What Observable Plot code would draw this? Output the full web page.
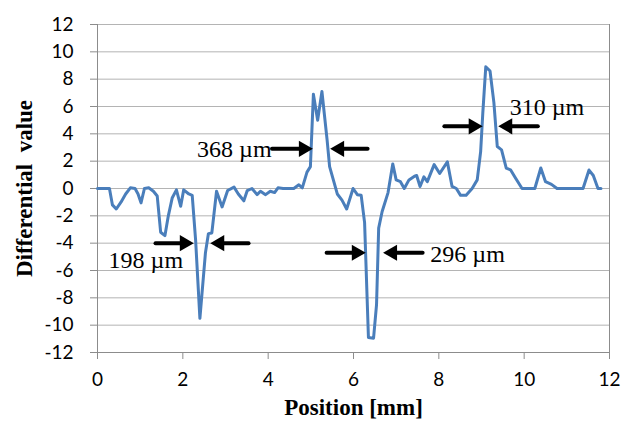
<!DOCTYPE html>
<html>
<head>
<meta charset="utf-8">
<script src="https://cdn.jsdelivr.net/npm/d3@7"></script>
<script src="https://cdn.jsdelivr.net/npm/@observablehq/plot@0.6"></script>
<style>
  html, body { margin: 0; padding: 0; background: #fff; }
  #chart { width: 624px; height: 433px; }
</style>
</head>
<body>
<div id="chart"></div>
<script>
// Position [mm]
const positions = [
  0.00, 0.10, 0.20, 0.28, 0.35, 0.44, 0.55, 0.66, 0.77, 0.88,
  0.95, 1.02, 1.10, 1.20, 1.31, 1.40, 1.48, 1.58, 1.66, 1.75,
  1.85, 1.95, 2.02, 2.14, 2.22, 2.30, 2.40, 2.53, 2.60, 2.68,
  2.79, 2.92, 3.05, 3.20, 3.30, 3.43, 3.51, 3.62, 3.74, 3.82,
  3.94, 4.05, 4.15, 4.23, 4.35, 4.50, 4.60, 4.72, 4.80, 4.91,
  4.99, 5.06, 5.16, 5.26, 5.38, 5.44, 5.62, 5.73, 5.84, 5.99,
  6.09, 6.18, 6.26, 6.35, 6.47, 6.54, 6.59, 6.67, 6.81, 6.92,
  7.00, 7.10, 7.19, 7.30, 7.43, 7.48, 7.56, 7.65, 7.73, 7.89,
  8.02, 8.20, 8.31, 8.41, 8.51, 8.64, 8.78, 8.90, 8.98, 9.03,
  9.10, 9.20, 9.29, 9.37, 9.47, 9.58, 9.68, 9.80, 9.95, 10.10,
  10.25, 10.39, 10.50, 10.64, 10.77, 11.00, 11.20, 11.38, 11.52, 11.62,
  11.73, 11.80
];
// Differential value
const values = [
  0, 0, 0, 0, -1.2, -1.5, -1.0, -0.4, 0.05, 0,
  -0.4, -1.05, 0, 0.05, -0.2, -0.55, -3.2, -3.45, -2.0, -0.7,
  -0.1, -1.3, -0.1, -0.4, -0.5, -3.8, -9.5, -4.7, -3.3, -3.25,
  -0.2, -1.35, -0.15, 0.1, -0.4, -0.9, -0.15, 0, -0.45, -0.2,
  -0.45, -0.2, -0.3, 0.05, 0, 0, 0, 0.27, 0.05, 1.2,
  1.6, 6.9, 5.0, 7.1, 3.6, 1.6, -0.4, -0.85, -1.5, 0,
  -0.45, -0.5, -2.5, -10.9, -10.95, -8.5, -2.9, -1.7, -0.3, 1.8,
  0.63, 0.5, 0, 0.63, 0.9, 0.95, 0.15, 0.85, 0.5, 1.75,
  1.1, 1.95, 0.15, 0, -0.5, -0.5, 0, 0.63, 2.7, 5.5,
  8.9, 8.6, 6.3, 3.07, 2.83, 1.49, 1.37, 0.75, 0, 0,
  0, 1.5, 0.5, 0.3, 0, 0, 0, 0, 1.35, 0.95,
  0, 0
];

const xTicks = [0, 2, 4, 6, 8, 10, 12];
const yTicks = [-12, -10, -8, -6, -4, -2, 0, 2, 4, 6, 8, 10, 12];

// Width annotations: arrows (start, tip, level) and labels
const arrowFrom = [1.36, 3.54, 4.09, 6.33, 5.37, 7.62, 8.13, 10.32];
const arrowTo   = [2.25, 2.65, 5.04, 5.46, 6.28, 6.70, 9.02, 9.40];
const arrowLevel = [-4.0, -4.0, 2.9, 2.9, -4.7, -4.7, 4.55, 4.55];

const labelText = ["198 µm", "368 µm", "296 µm", "310 µm"];
const labelX = [0.26, 4.08, 7.80, 9.66];
const labelY = [-5.25, 2.9, -4.85, 5.95];
const labelAnchor = ["start", "end", "start", "start"];

const series = positions.map((p, i) => ({x: p, y: values[i]}));
const arrows = arrowFrom.map((f, i) => ({x1: f, x2: arrowTo[i], y: arrowLevel[i], right: arrowTo[i] > f}));
const labels = labelText.map((t, i) => ({text: t, x: labelX[i], y: labelY[i], anchor: labelAnchor[i]}));

const gridColor = "#b4b4b4";
const axisColor = "#8c8c8c";
const serif = "Liberation Serif, Times New Roman, serif";

const chart = Plot.plot({
  width: 624,
  height: 433,
  marginLeft: 97,
  marginRight: 15,
  marginTop: 24,
  marginBottom: 81,
  style: {fontFamily: "Lato, sans-serif", fontSize: "19px", color: "#000", background: "#fff"},
  x: {domain: [0, 12]},
  y: {domain: [-12, 12]},
  marks: [
    Plot.gridY(yTicks, {stroke: gridColor, strokeOpacity: 1, strokeWidth: 1}),
    Plot.ruleX([12], {stroke: axisColor, strokeWidth: 1}),
    Plot.ruleX([0], {stroke: axisColor, strokeWidth: 1}),
    Plot.ruleY([-12], {stroke: axisColor, strokeWidth: 1}),
    Plot.axisY(yTicks, {
      anchor: "left", label: null, tickSize: 7, tickPadding: 17,
      stroke: axisColor, tickFormat: d => String(d), fontSize: 19, fill: "#000"
    }),
    Plot.axisX(xTicks, {
      anchor: "bottom", label: null, tickSize: 7, tickPadding: 13,
      stroke: axisColor, tickFormat: d => String(d), fontSize: 19, fill: "#000"
    }),
    Plot.line(series, {x: "x", y: "y", stroke: "#4a7ebb", strokeWidth: 3, strokeLinejoin: "round"}),
    Plot.arrow(arrows, {
      x1: "x1", x2: "x2", y1: "y", y2: "y",
      stroke: "#000", strokeWidth: 4, headLength: 0, insetEnd: 11
    }),
    Plot.dot(arrows.filter(d => d.right), {
      x: "x2", y: "y", symbol: "triangle", r: 6, fill: "#000", stroke: "none", rotate: 90, dx: -9
    }),
    Plot.dot(arrows.filter(d => !d.right), {
      x: "x2", y: "y", symbol: "triangle", r: 6, fill: "#000", stroke: "none", rotate: -90, dx: 9
    }),
    Plot.text(labels.filter(d => d.anchor === "start"), {
      x: "x", y: "y", text: "text", textAnchor: "start",
      fontFamily: serif, fontSize: 24, fill: "#000"
    }),
    Plot.text(labels.filter(d => d.anchor === "end"), {
      x: "x", y: "y", text: "text", textAnchor: "end",
      fontFamily: serif, fontSize: 24, fill: "#000"
    }),
    Plot.text(["Differential  value"], {
      frameAnchor: "left", dx: -73, rotate: -90, textAnchor: "middle",
      fontFamily: serif, fontSize: 23, fontWeight: "bold", fill: "#000"
    }),
    Plot.text(["Position [mm]"], {
      frameAnchor: "bottom", dy: 62, textAnchor: "middle",
      fontFamily: serif, fontSize: 23, fontWeight: "bold", fill: "#000"
    })
  ]
});

document.getElementById("chart").appendChild(chart);
</script>
</body>
</html>
